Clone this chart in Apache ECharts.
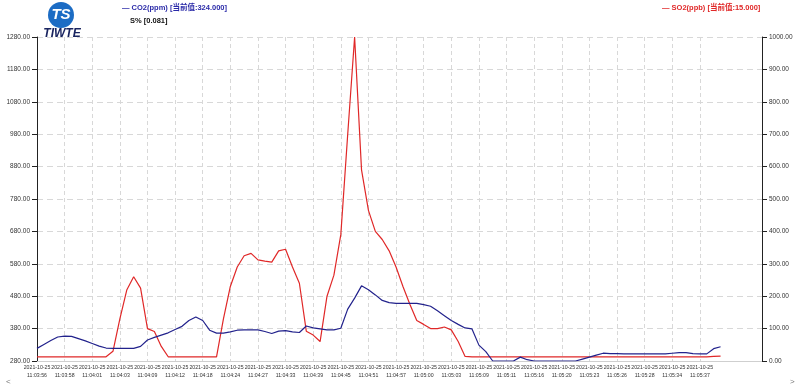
<!DOCTYPE html>
<html>
<head>
<meta charset="utf-8">
<script src="https://cdn.jsdelivr.net/npm/echarts@6/dist/echarts.min.js"></script>
<style>
html,body{margin:0;padding:0;background:#fff;}
#chart{width:800px;height:387px;}
</style>
</head>
<body>
<div id="chart"></div>
<script>
// ---- data ----
const xDate = '2021-10-25';
const xTimes = ['11:03:56','11:03:58','11:04:01','11:04:03','11:04:09','11:04:12','11:04:18','11:04:24','11:04:27','11:04:33','11:04:39','11:04:45','11:04:51','11:04:57','11:05:00','11:05:03','11:05:09','11:05:11','11:05:16','11:05:20','11:05:23','11:05:26','11:05:28','11:05:34','11:05:37'];
const samplesPerLabel = 4;
const totalSamples = 106;
const co2 = [319,331,343,354,357,356,349,342,334,326,
  320,319,319,319,319,325,345,353,360,367,
  377,387,405,416,405,375,366,366,370,375,
  376,376,376,371,365,372,374,370,368,388,
  382,379,376,376,381,440,474,512,500,484,
  467,460,458,458,458,458,454,449,435,420,
  405,393,382,379,329,309,280,280,280,280,
  292,284,280,280,280,280,280,280,280,286,
  292,298,304,303,303,302,302,302,302,302,
  302,302,304,306,306,303,302,302,318,324];
const so2 = [13,13,13,13,13,13,13,13,13,13,
  13,30,130,219,260,225,100,91,45,13,
  13,13,13,13,13,13,13,130,230,290,
  325,332,312,308,305,340,345,290,240,92,
  80,60,200,265,390,700,1000,590,465,400,
  375,340,290,230,175,125,113,100,100,105,
  96,60,14,13,13,13,13,13,13,13,
  13,13,13,13,13,13,13,13,13,13,
  13,13,13,13,13,13,13,13,13,13,
  13,13,13,13,13,13,13,13,14,15];
const co2Current = '324.000';
const so2Current = '15.000';
const sPercent = '0.081';

const categories = [];
for (let i = 0; i < totalSamples; i++) categories.push(String(i));

const chart = echarts.init(document.getElementById('chart'));
const font = 'Arial, "Liberation Sans", "Noto Sans CJK SC", sans-serif';
const lastLabelIdx = (xTimes.length - 1) * samplesPerLabel;

chart.setOption({
  backgroundColor: '#ffffff',
  animation: false,
  grid: {left: 37, right: 38, top: 37, bottom: 26, containLabel: false},
  xAxis: {
    type: 'category',
    data: categories,
    boundaryGap: false,
    axisLine: {show: true, lineStyle: {color: '#cfcfcf'}},
    axisTick: {show: false},
    axisLabel: {
      interval: function (i) { return i % samplesPerLabel === 0 && i <= lastLabelIdx; },
      formatter: function (v, i) {
        const k = i / samplesPerLabel;
        return (i % samplesPerLabel === 0 && k < xTimes.length) ? xDate + '\n' + xTimes[k] : '';
      },
      showMinLabel: true, hideOverlap: false,
      fontSize: 5.2, color: '#333', lineHeight: 8, margin: 3, fontFamily: font
    },
    splitLine: {
      show: true,
      interval: function (i) { return i % samplesPerLabel === 0 && i <= lastLabelIdx && i > 0; },
      lineStyle: {color: '#d8d8d8', type: [4, 3], width: 1}
    }
  },
  yAxis: [
    {
      type: 'value', position: 'left', min: 280, max: 1280, interval: 100,
      axisLine: {show: true, lineStyle: {color: '#222', width: 1}},
      axisTick: {show: true, length: 5, lineStyle: {color: '#222'}},
      axisLabel: {formatter: v => v.toFixed(2), fontSize: 6.5, color: '#333', margin: 7, fontFamily: font},
      splitLine: {show: false}
    },
    {
      type: 'value', position: 'right', min: 0, max: 1000, interval: 100,
      axisLine: {show: true, lineStyle: {color: '#222', width: 1}},
      axisTick: {show: true, length: 5, lineStyle: {color: '#222'}},
      axisLabel: {formatter: v => v.toFixed(2), fontSize: 6.5, color: '#333', margin: 7, fontFamily: font},
      splitLine: {show: true, lineStyle: {color: '#d8d8d8', type: [6, 4], width: 1}}
    }
  ],
  series: [
    {
      name: 'CO2(ppm)', type: 'line', yAxisIndex: 0, data: co2,
      showSymbol: false, lineStyle: {color: '#22228c', width: 1.2}, z: 3
    },
    {
      name: 'SO2(ppb)', type: 'line', yAxisIndex: 1, data: so2,
      showSymbol: false, lineStyle: {color: '#e02828', width: 1.2}, z: 2
    }
  ],
  graphic: [
    {type: 'circle', shape: {cx: 61, cy: 15, r: 13}, style: {fill: '#1c6cc4'}},
    {type: 'text', x: 61, y: 15, style: {text: 'TS', fill: '#fff', font: 'italic bold 15px ' + font, textAlign: 'center', textVerticalAlign: 'middle'}},
    {type: 'text', x: 62, y: 34, style: {text: 'TIWTE', fill: '#1a2560', font: 'italic bold 12px ' + font, textAlign: 'center', textVerticalAlign: 'middle'}},
    {type: 'text', x: 122, y: 8, style: {text: '— CO2(ppm) [当前值:' + co2Current + ']', fill: '#2a2aa8', font: 'bold 7.5px ' + font, textVerticalAlign: 'middle'}},
    {type: 'text', x: 130, y: 21, style: {text: 'S% [' + sPercent + ']', fill: '#111', font: 'bold 7.5px ' + font, textVerticalAlign: 'middle'}},
    {type: 'text', x: 662, y: 8, style: {text: '— SO2(ppb) [当前值:' + so2Current + ']', fill: '#e02828', font: 'bold 7.5px ' + font, textVerticalAlign: 'middle'}},
    {type: 'text', x: 6, y: 382, style: {text: '<', fill: '#777', font: '8px ' + font, textVerticalAlign: 'middle'}},
    {type: 'text', x: 790, y: 382, style: {text: '>', fill: '#777', font: '8px ' + font, textVerticalAlign: 'middle'}}
  ]
});
</script>
</body>
</html>
